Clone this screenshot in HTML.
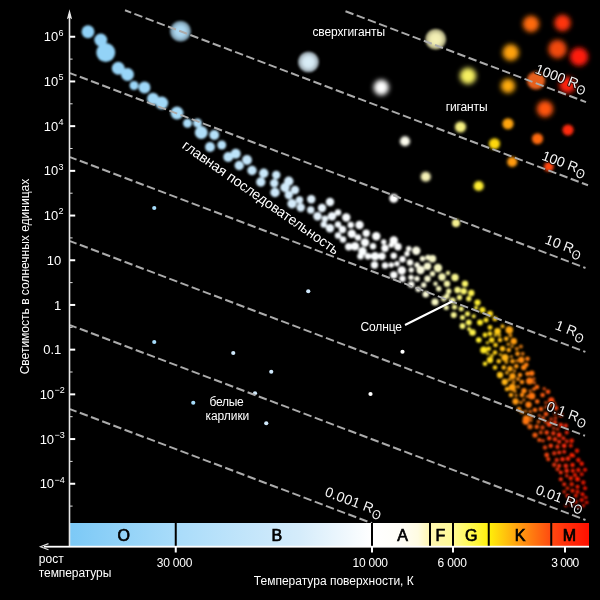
<!DOCTYPE html>
<html lang="ru"><head><meta charset="utf-8"><title>Диаграмма Герцшпрунга — Рассела</title>
<style>
html,body{margin:0;padding:0;background:#000;}
svg{display:block;font-family:"Liberation Sans","DejaVu Sans",sans-serif;}
.lab{fill:#fff;font-size:12px;}
.rl{fill:#f4f4f4;font-size:14px;stroke:#000;stroke-width:2px;stroke-opacity:.75;paint-order:stroke fill;stroke-linejoin:round;}
.cls{fill:#000;font-size:16px;text-anchor:middle;stroke:#000;stroke-width:.7px;}
.tick{fill:#fff;font-size:13px;}
.dash{stroke:#ababab;stroke-width:2;stroke-dasharray:8.5 3.46;fill:none;}
</style></head><body>
<svg width="600" height="600" viewBox="0 0 600 600">
<defs>
<filter id="b0" x="-50%" y="-50%" width="200%" height="200%"><feGaussianBlur stdDeviation="0.6"/></filter>
<filter id="b07" x="-30%" y="-30%" width="160%" height="160%"><feGaussianBlur stdDeviation="1.0"/></filter>
<filter id="b1" x="-30%" y="-30%" width="160%" height="160%"><feGaussianBlur stdDeviation="1.0"/></filter>
<filter id="b2" x="-40%" y="-40%" width="180%" height="180%"><feGaussianBlur stdDeviation="1.7"/></filter>
<filter id="b3" x="-50%" y="-50%" width="200%" height="200%"><feGaussianBlur stdDeviation="2.5"/></filter>
<linearGradient id="bar" gradientUnits="userSpaceOnUse" x1="70" y1="0" x2="589" y2="0">
<stop offset="0.0000" stop-color="#7cc9f6"/>
<stop offset="0.2042" stop-color="#a9dcfa"/>
<stop offset="0.4432" stop-color="#d5ecfb"/>
<stop offset="0.5819" stop-color="#ffffff"/>
<stop offset="0.6358" stop-color="#fffef8"/>
<stop offset="0.6705" stop-color="#fffce2"/>
<stop offset="0.6936" stop-color="#fff7b0"/>
<stop offset="0.7380" stop-color="#fffa96"/>
<stop offset="0.7707" stop-color="#fffa54"/>
<stop offset="0.8073" stop-color="#fff00a"/>
<stop offset="0.8671" stop-color="#ff9a10"/>
<stop offset="0.9268" stop-color="#ff4a10"/>
<stop offset="0.9538" stop-color="#ff320c"/>
<stop offset="1.0000" stop-color="#ff1000"/>
</linearGradient>
</defs>
<rect width="600" height="600" fill="#000"/>
<g filter="url(#b07)">
<circle cx="88" cy="31.75" r="6.45" fill="#8fd1f7"/>
<circle cx="100.75" cy="40" r="6.45" fill="#92d2f7"/>
<circle cx="105.75" cy="52.5" r="9.45" fill="#93d3f7"/>
<circle cx="118.25" cy="68.25" r="6.45" fill="#97d4f7"/>
<circle cx="127.5" cy="74.5" r="6.45" fill="#99d6f8"/>
<circle cx="134" cy="85.5" r="4.45" fill="#9bd6f8"/>
<circle cx="144.5" cy="87.5" r="5.95" fill="#9ed7f8"/>
<circle cx="153" cy="98.75" r="5.95" fill="#a0d8f8"/>
<circle cx="161.75" cy="103" r="6.45" fill="#a2d9f9"/>
<circle cx="177" cy="113" r="6.45" fill="#a6dbf9"/>
<circle cx="187.5" cy="123.25" r="4.45" fill="#abddf9"/>
<circle cx="197.5" cy="123" r="4.45" fill="#afdef9"/>
<circle cx="201.25" cy="132.5" r="6.45" fill="#b0dff9"/>
<circle cx="214.25" cy="135" r="4.95" fill="#b5e1fa"/>
<circle cx="210" cy="147" r="4.95" fill="#b4e0fa"/>
<circle cx="221.75" cy="145" r="4.45" fill="#b8e2fa"/>
<circle cx="228.25" cy="157" r="4.95" fill="#bbe3fa"/>
<circle cx="235.75" cy="153.75" r="4.95" fill="#bee4fa"/>
<circle cx="247" cy="160" r="4.95" fill="#c3e5fa"/>
</g>
<g filter="url(#b1)">
<circle cx="239.25" cy="165.5" r="4.70" fill="#c0e4fa"/>
<circle cx="252" cy="170.5" r="4.70" fill="#c5e6fa"/>
<circle cx="263.75" cy="173.25" r="4.70" fill="#c9e8fa"/>
<circle cx="260.75" cy="182" r="4.70" fill="#c8e7fa"/>
<circle cx="276.25" cy="175" r="4.20" fill="#ceeafb"/>
<circle cx="274.25" cy="183.25" r="4.20" fill="#cee9fb"/>
<circle cx="275" cy="192.5" r="4.70" fill="#cee9fb"/>
<circle cx="288.75" cy="181.25" r="4.70" fill="#d3ebfb"/>
<circle cx="285" cy="187.5" r="4.70" fill="#d2ebfb"/>
<circle cx="295" cy="190" r="4.20" fill="#d6ecfb"/>
<circle cx="288.75" cy="195" r="4.20" fill="#d3ebfb"/>
<circle cx="292" cy="203.75" r="4.70" fill="#d5ecfb"/>
<circle cx="299.5" cy="200" r="3.70" fill="#d8edfb"/>
<circle cx="300.75" cy="207.5" r="4.20" fill="#d9edfb"/>
<circle cx="311.25" cy="199.25" r="4.20" fill="#e0f1fc"/>
<circle cx="310.75" cy="210" r="3.70" fill="#e0f1fc"/>
<circle cx="317.5" cy="216.25" r="4.20" fill="#e5f3fd"/>
<circle cx="322" cy="208" r="4.20" fill="#e9f5fd"/>
<circle cx="330" cy="202" r="4.20" fill="#eff8fe"/>
<circle cx="332" cy="216.25" r="4.20" fill="#f0f8fe"/>
<circle cx="338" cy="212.5" r="3.20" fill="#f5fbfe"/>
<circle cx="325" cy="218.75" r="3.20" fill="#ebf6fd"/>
<circle cx="323.75" cy="224.5" r="3.20" fill="#eaf5fd"/>
<circle cx="330" cy="228.25" r="4.20" fill="#eff8fe"/>
<circle cx="338" cy="224.5" r="3.20" fill="#f5fbfe"/>
<circle cx="346.25" cy="217.5" r="4.20" fill="#fafdff"/>
<circle cx="342.5" cy="229.5" r="3.70" fill="#f8fcff"/>
<circle cx="338" cy="235.5" r="3.20" fill="#f5fbfe"/>
<circle cx="343" cy="239.5" r="3.20" fill="#f8fcff"/>
<circle cx="350.75" cy="225" r="3.20" fill="#fafdff"/>
<circle cx="351.75" cy="233.75" r="4.20" fill="#fbfdff"/>
<circle cx="359.5" cy="225" r="4.20" fill="#fbfdff"/>
<circle cx="358" cy="237.5" r="3.20" fill="#fbfdff"/>
<circle cx="366.25" cy="233.25" r="3.70" fill="#fcfeff"/>
<circle cx="365" cy="242.5" r="4.20" fill="#fcfeff"/>
<circle cx="376.25" cy="236.25" r="4.20" fill="#fdfeff"/>
<circle cx="348.75" cy="246.75" r="3.70" fill="#fafdff"/>
<circle cx="355" cy="246.25" r="4.20" fill="#fbfdff"/>
<circle cx="362.5" cy="251.25" r="4.20" fill="#fbfeff"/>
<circle cx="360.5" cy="256.25" r="3.20" fill="#fbfeff"/>
<circle cx="373" cy="246.25" r="3.20" fill="#fcfeff"/>
<circle cx="368" cy="256.25" r="3.20" fill="#fcfeff"/>
<circle cx="375" cy="256.25" r="4.20" fill="#fcfeff"/>
<circle cx="382" cy="256.25" r="3.70" fill="#fdfeff"/>
<circle cx="374.5" cy="265" r="3.70" fill="#fcfeff"/>
<circle cx="385" cy="248.25" r="3.70" fill="#fdfeff"/>
<circle cx="383.75" cy="242" r="2.70" fill="#fdfeff"/>
<circle cx="393.75" cy="240.5" r="4.20" fill="#feffff"/>
<circle cx="391.25" cy="245" r="2.70" fill="#feffff"/>
<circle cx="398" cy="246.75" r="3.70" fill="#feffff"/>
<circle cx="393.75" cy="255.75" r="3.20" fill="#feffff"/>
<circle cx="385" cy="265.5" r="3.20" fill="#fdfeff"/>
<circle cx="391.25" cy="265" r="2.70" fill="#feffff"/>
<circle cx="397" cy="263.75" r="2.70" fill="#feffff"/>
<circle cx="402.5" cy="259.25" r="3.20" fill="#ffffff"/>
<circle cx="401.75" cy="270.5" r="4.20" fill="#ffffff"/>
<circle cx="393.75" cy="275" r="3.70" fill="#feffff"/>
<circle cx="402.5" cy="278.75" r="3.20" fill="#ffffff"/>
<circle cx="408.75" cy="248.75" r="2.70" fill="#fefef8"/>
<circle cx="407" cy="253.75" r="2.70" fill="#fefefb"/>
<circle cx="410" cy="262.5" r="3.20" fill="#fefef5"/>
<circle cx="411.25" cy="270" r="2.70" fill="#fdfdf2"/>
<circle cx="416.25" cy="250.75" r="4.20" fill="#fcfce8"/>
<circle cx="422.5" cy="258.75" r="2.70" fill="#fbfbdc"/>
<circle cx="417" cy="265" r="2.70" fill="#fcfce7"/>
<circle cx="420.5" cy="270" r="4.20" fill="#fbfbe0"/>
<circle cx="428" cy="257.5" r="2.70" fill="#f9f9d1"/>
<circle cx="427.5" cy="266.25" r="3.70" fill="#f9f9d2"/>
<circle cx="417" cy="278.75" r="2.70" fill="#fcfce7"/>
<circle cx="411.25" cy="284.5" r="3.20" fill="#fdfdf2"/>
<circle cx="423.75" cy="285" r="2.70" fill="#fafada"/>
<circle cx="418.25" cy="289.25" r="2.70" fill="#fcfce4"/>
<circle cx="425.75" cy="294.25" r="3.17" fill="#fafad6"/>
<circle cx="411" cy="277.5" r="2.70" fill="#fefef3"/>
<circle cx="432.5" cy="258.75" r="3.70" fill="#f8f8c8"/>
<circle cx="427.5" cy="278.75" r="3.20" fill="#f9f9d2"/>
<circle cx="438" cy="268" r="4.20" fill="#f7f7bd"/>
<circle cx="432.5" cy="273.75" r="2.70" fill="#f8f8c8"/>
<circle cx="435.5" cy="283.75" r="2.20" fill="#f7f7c2"/>
<circle cx="438.75" cy="288.75" r="2.70" fill="#f7f7bc"/>
<circle cx="442" cy="277" r="3.70" fill="#f6f6b5"/>
<circle cx="448" cy="273" r="2.20" fill="#f6f5a5"/>
<circle cx="455" cy="277.5" r="3.70" fill="#f8f68f"/>
<circle cx="447" cy="283.75" r="3.20" fill="#f6f5a9"/>
<circle cx="448.75" cy="291.25" r="2.69" fill="#f6f5a3"/>
<circle cx="435" cy="302" r="3.59" fill="#f8f8c3"/>
<circle cx="443.75" cy="298.75" r="2.64" fill="#f5f5b2"/>
<circle cx="447" cy="296" r="2.66" fill="#f6f5a9"/>
<circle cx="452.5" cy="300.5" r="3.12" fill="#f7f597"/>
<circle cx="446.25" cy="307.5" r="2.58" fill="#f5f5ab"/>
<circle cx="453.75" cy="315" r="3.00" fill="#f8f693"/>
<circle cx="454.5" cy="307" r="2.59" fill="#f8f690"/>
<circle cx="465" cy="283.75" r="3.20" fill="#fbf56b"/>
<circle cx="457.5" cy="290" r="3.20" fill="#f9f687"/>
<circle cx="463.75" cy="291.25" r="3.19" fill="#faf570"/>
<circle cx="459.5" cy="297.5" r="2.65" fill="#f9f680"/>
<circle cx="468.75" cy="298.75" r="2.64" fill="#fcf35a"/>
<circle cx="471.25" cy="293" r="3.18" fill="#fdf24f"/>
<circle cx="461.25" cy="308.75" r="2.57" fill="#faf67a"/>
<circle cx="477.5" cy="302.5" r="3.10" fill="#feef33"/>
<circle cx="476" cy="308" r="2.10" fill="#fef03a"/>
<circle cx="482.5" cy="310" r="3.04" fill="#ffe925"/>
<circle cx="467.5" cy="313.75" r="2.54" fill="#fcf460"/>
<circle cx="462.5" cy="317.5" r="2.51" fill="#faf676"/>
<circle cx="473.75" cy="316.25" r="2.06" fill="#fdf144"/>
<circle cx="490" cy="313.75" r="3.01" fill="#ffdb1d"/>
<circle cx="486" cy="320" r="2.50" fill="#ffe322"/>
<circle cx="495" cy="318.75" r="2.51" fill="#ffd218"/>
<circle cx="468.75" cy="322.5" r="2.94" fill="#fcf35a"/>
<circle cx="462.5" cy="326" r="2.91" fill="#faf676"/>
<circle cx="480" cy="322.5" r="2.94" fill="#ffee28"/>
<circle cx="472.5" cy="332.5" r="3.31" fill="#fdf149"/>
<circle cx="469" cy="329" r="1.99" fill="#fcf359"/>
<circle cx="478.75" cy="340" r="2.80" fill="#ffef2e"/>
<circle cx="485" cy="335" r="2.40" fill="#ffe523"/>
<circle cx="490" cy="327.5" r="2.45" fill="#ffdb1d"/>
<circle cx="490" cy="333.75" r="2.40" fill="#ffdb1d"/>
<circle cx="497.5" cy="331.25" r="3.32" fill="#ffcb17"/>
<circle cx="509.25" cy="330" r="3.78" fill="#ffa811"/>
<circle cx="502.5" cy="326.25" r="2.00" fill="#ffbc14"/>
<circle cx="491.75" cy="340" r="2.80" fill="#ffd81b"/>
<circle cx="495.5" cy="345" r="2.33" fill="#ffd118"/>
<circle cx="500" cy="340" r="2.36" fill="#ffc316"/>
<circle cx="506.25" cy="338.75" r="2.37" fill="#ffb113"/>
<circle cx="513.75" cy="341.25" r="3.23" fill="#ff9c10"/>
<circle cx="483.75" cy="350" r="3.57" fill="#ffe724"/>
<circle cx="488.75" cy="348.75" r="2.30" fill="#ffde1f"/>
<circle cx="495" cy="352.5" r="2.29" fill="#ffd218"/>
<circle cx="502.5" cy="348.75" r="2.73" fill="#ffbc14"/>
<circle cx="508.75" cy="350" r="2.29" fill="#ffaa12"/>
<circle cx="490" cy="360" r="3.15" fill="#ffdb1d"/>
<circle cx="485" cy="363.75" r="2.29" fill="#ffe523"/>
<circle cx="505" cy="357.5" r="3.57" fill="#ffb513"/>
<circle cx="498.75" cy="361.25" r="2.29" fill="#ffc716"/>
<circle cx="517.5" cy="353.75" r="2.29" fill="#ff9410"/>
<circle cx="521.25" cy="360" r="3.15" fill="#ff8b10"/>
<circle cx="512.5" cy="361.25" r="2.29" fill="#ff9f10"/>
<circle cx="527.5" cy="358.75" r="2.29" fill="#ff7e10"/>
<circle cx="495" cy="367.5" r="2.29" fill="#ffd218"/>
<circle cx="503.75" cy="367.5" r="2.29" fill="#ffb814"/>
<circle cx="510" cy="368.75" r="2.72" fill="#ffa611"/>
<circle cx="516.25" cy="366.25" r="2.29" fill="#ff9710"/>
<circle cx="523.75" cy="367.5" r="2.72" fill="#ff8610"/>
<circle cx="500" cy="375" r="3.15" fill="#ffc316"/>
<circle cx="512.5" cy="376.25" r="3.15" fill="#ff9f10"/>
<circle cx="520" cy="375" r="2.29" fill="#ff8e10"/>
<circle cx="527.5" cy="373.75" r="2.29" fill="#ff7e10"/>
<circle cx="504.7" cy="382" r="3.15" fill="#ffb513"/>
<circle cx="512.25" cy="387.4" r="3.57" fill="#ff9f10"/>
<circle cx="511" cy="395" r="2.29" fill="#ffa310"/>
<circle cx="515.5" cy="401.5" r="3.15" fill="#ff9810"/>
<circle cx="522" cy="395" r="2.29" fill="#ff8a10"/>
<circle cx="524" cy="390.7" r="2.72" fill="#ff8510"/>
<circle cx="522" cy="382" r="2.29" fill="#ff8a10"/>
<circle cx="529.6" cy="381" r="3.57" fill="#ff7910"/>
<circle cx="531.75" cy="373.3" r="2.72" fill="#ff7410"/>
<circle cx="526.3" cy="364.7" r="2.29" fill="#ff8010"/>
<circle cx="531.75" cy="396" r="3.57" fill="#ff7410"/>
<circle cx="528.5" cy="404.75" r="3.15" fill="#ff7b10"/>
<circle cx="537.2" cy="401.5" r="2.29" fill="#ff6810"/>
<circle cx="542.6" cy="395" r="2.29" fill="#ff5c10"/>
<circle cx="548" cy="391.75" r="2.29" fill="#ff5110"/>
<circle cx="551.25" cy="400.4" r="3.15" fill="#ff4a10"/>
<circle cx="535" cy="410" r="2.29" fill="#ff6d10"/>
<circle cx="526.3" cy="418.8" r="3.57" fill="#ff8010"/>
<circle cx="541" cy="409" r="2.29" fill="#ff6010"/>
<circle cx="546" cy="414" r="2.29" fill="#ff5510"/>
<circle cx="543" cy="418" r="1.87" fill="#ff5c10"/>
<circle cx="556" cy="408" r="2.29" fill="#ff410f"/>
<circle cx="561" cy="415" r="2.29" fill="#ff390d"/>
<circle cx="519" cy="409" r="2.29" fill="#ff9010"/>
<circle cx="522" cy="412" r="1.87" fill="#ff8a10"/>
<circle cx="507" cy="389" r="2.29" fill="#ffaf12"/>
<circle cx="518" cy="379" r="1.87" fill="#ff9310"/>
<circle cx="537" cy="387" r="2.29" fill="#ff6910"/>
<circle cx="534" cy="389" r="1.87" fill="#ff6f10"/>
<circle cx="487.4" cy="342.7" r="1.8" fill="#ffe020" opacity=".8"/>
<circle cx="491.9" cy="355.7" r="2" fill="#ffd81b" opacity=".8"/>
<circle cx="513.6" cy="382" r="2" fill="#ff9c10" opacity=".8"/>
<circle cx="514.9" cy="391.3" r="1.8" fill="#ff9a10" opacity=".8"/>
<circle cx="523.8" cy="399.8" r="1.6" fill="#ff8610" opacity=".8"/>
<circle cx="516.8" cy="348.8" r="2" fill="#ff9510" opacity=".8"/>
<circle cx="546.1" cy="407" r="1.8" fill="#ff5510" opacity=".8"/>
<circle cx="520.9" cy="402.5" r="1.8" fill="#ff8c10" opacity=".8"/>
<circle cx="544.2" cy="388.7" r="1.8" fill="#ff5910" opacity=".8"/>
<circle cx="530.2" cy="411.6" r="1.8" fill="#ff7810" opacity=".8"/>
<circle cx="545.8" cy="402.5" r="1.6" fill="#ff5510" opacity=".8"/>
<circle cx="531.6" cy="416.4" r="2" fill="#ff7410" opacity=".8"/>
<circle cx="518.1" cy="386.7" r="1.8" fill="#ff9210" opacity=".8"/>
<circle cx="508.3" cy="344.3" r="1.8" fill="#ffab12" opacity=".8"/>
<circle cx="538.5" cy="421.8" r="2" fill="#ff6510" opacity=".8"/>
<circle cx="516.1" cy="395.4" r="1.6" fill="#ff9710" opacity=".8"/>
<circle cx="512.1" cy="346.3" r="1.6" fill="#ffa010" opacity=".8"/>
<circle cx="534.4" cy="382.7" r="1.6" fill="#ff6e10" opacity=".8"/>
<circle cx="514.6" cy="370.9" r="1.6" fill="#ff9a10" opacity=".8"/>
<circle cx="531" cy="420.4" r="1.6" fill="#ff7610" opacity=".8"/>
<circle cx="530.1" cy="390.8" r="1.6" fill="#ff7810" opacity=".8"/>
<circle cx="500.4" cy="354.6" r="1.6" fill="#ffc215" opacity=".8"/>
<circle cx="506.3" cy="362" r="2" fill="#ffb113" opacity=".8"/>
<circle cx="495.4" cy="335.1" r="1.8" fill="#ffd118" opacity=".8"/>
<circle cx="551.1" cy="419.1" r="1.8" fill="#ff4a10" opacity=".8"/>
<circle cx="510.4" cy="335.4" r="2" fill="#ffa511" opacity=".8"/>
<circle cx="516.9" cy="360.8" r="1.6" fill="#ff9510" opacity=".8"/>
<circle cx="499.4" cy="335.4" r="1.8" fill="#ffc516" opacity=".8"/>
<circle cx="534" cy="378.8" r="1.6" fill="#ff6f10" opacity=".8"/>
<circle cx="555.1" cy="413.4" r="1.8" fill="#ff430f" opacity=".8"/>
<circle cx="555.5" cy="418.1" r="1.8" fill="#ff420f" opacity=".8"/>
<circle cx="539.4" cy="415.6" r="1.6" fill="#ff6310" opacity=".8"/>
<circle cx="506.9" cy="372.8" r="2" fill="#ffaf12" opacity=".8"/>
<circle cx="509.3" cy="379.7" r="1.8" fill="#ffa811" opacity=".8"/>
<circle cx="527.1" cy="396.3" r="1.6" fill="#ff7e10" opacity=".8"/>
<circle cx="525.8" cy="411.1" r="1.6" fill="#ff8110" opacity=".8"/>
<circle cx="553.7" cy="428.2" r="1.6" fill="#ff450f" opacity=".8"/>
<circle cx="549.8" cy="405.4" r="2" fill="#ff4d10" opacity=".8"/>
<circle cx="520.9" cy="346.5" r="2" fill="#ff8c10" opacity=".8"/>
<circle cx="566.8" cy="441.3" r="2" fill="#ff300b" opacity=".8"/>
<circle cx="554.4" cy="403.9" r="2" fill="#ff440f" opacity=".8"/>
<circle cx="545.3" cy="421.7" r="1.8" fill="#ff5610" opacity=".8"/>
<circle cx="557.6" cy="429.2" r="1.6" fill="#ff3f0e" opacity=".8"/>
<circle cx="487.8" cy="353.7" r="1.6" fill="#ffdf20" opacity=".8"/>
<circle cx="522.7" cy="353.8" r="2" fill="#ff8810" opacity=".8"/>
<circle cx="511.4" cy="356.6" r="1.6" fill="#ffa210" opacity=".8"/>
<circle cx="525.8" cy="421.3" r="3.4" fill="#ff7410" opacity="1"/>
<circle cx="530" cy="426.7" r="2.6" fill="#ff6b10" opacity="0.9"/>
<circle cx="536.7" cy="426.7" r="2.2" fill="#ff5c10" opacity="0.95"/>
<circle cx="542.5" cy="427.5" r="2.2" fill="#ff4f10" opacity="0.85"/>
<circle cx="549.2" cy="424.2" r="2.6" fill="#ff430f" opacity="1"/>
<circle cx="555" cy="422.5" r="2.2" fill="#ff390d" opacity="0.92"/>
<circle cx="560.8" cy="425" r="2.2" fill="#ff300b" opacity="1"/>
<circle cx="565.8" cy="425.8" r="2.2" fill="#ff2b09" opacity="0.9"/>
<circle cx="535" cy="435" r="2.6" fill="#ff6010" opacity="0.95"/>
<circle cx="540.8" cy="432.5" r="2" fill="#ff5310" opacity="0.85"/>
<circle cx="546.7" cy="432.5" r="2.2" fill="#ff4710" opacity="1"/>
<circle cx="553.3" cy="433.3" r="2.2" fill="#ff3c0e" opacity="0.92"/>
<circle cx="559.2" cy="435" r="2.4" fill="#ff320c" opacity="1"/>
<circle cx="566.7" cy="432.5" r="2" fill="#ff2a08" opacity="0.9"/>
<circle cx="539.2" cy="440" r="2" fill="#ff5710" opacity="0.95"/>
<circle cx="543" cy="440.8" r="1.8" fill="#ff4e10" opacity="0.85"/>
<circle cx="549.2" cy="438.3" r="2.2" fill="#ff430f" opacity="1"/>
<circle cx="555" cy="439.2" r="2.2" fill="#ff390d" opacity="0.92"/>
<circle cx="559.2" cy="441.7" r="2" fill="#ff320c" opacity="1"/>
<circle cx="563.3" cy="438.3" r="2" fill="#ff2d0a" opacity="0.9"/>
<circle cx="571.7" cy="440.8" r="2.2" fill="#ff2406" opacity="0.95"/>
<circle cx="545" cy="447.5" r="2.2" fill="#ff4a10" opacity="0.85"/>
<circle cx="550.8" cy="445.8" r="2.2" fill="#ff400e" opacity="1"/>
<circle cx="557.5" cy="446.7" r="2.2" fill="#ff350c" opacity="0.92"/>
<circle cx="564.2" cy="445.8" r="2.4" fill="#ff2c09" opacity="1"/>
<circle cx="570.8" cy="445.8" r="2" fill="#ff2506" opacity="0.9"/>
<circle cx="546.7" cy="455" r="2.4" fill="#ff4710" opacity="0.95"/>
<circle cx="554.2" cy="453.3" r="2.2" fill="#ff3a0d" opacity="0.85"/>
<circle cx="559.2" cy="452.5" r="2" fill="#ff320c" opacity="1"/>
<circle cx="564.2" cy="451.7" r="2" fill="#ff2c09" opacity="0.92"/>
<circle cx="571.7" cy="455" r="2.2" fill="#ff2406" opacity="1"/>
<circle cx="577" cy="450.8" r="2.2" fill="#ff1e03" opacity="0.9"/>
<circle cx="548.3" cy="459.2" r="2" fill="#ff440f" opacity="0.95"/>
<circle cx="556.7" cy="460" r="2.2" fill="#ff360d" opacity="0.85"/>
<circle cx="562.5" cy="459.2" r="2.2" fill="#ff2e0a" opacity="1"/>
<circle cx="568" cy="458.7" r="2.4" fill="#ff2808" opacity="0.92"/>
<circle cx="573.3" cy="455.8" r="1.8" fill="#ff2305" opacity="1"/>
<circle cx="578.3" cy="460" r="2.2" fill="#ff1d02" opacity="0.9"/>
<circle cx="581.7" cy="463.7" r="2.2" fill="#ff1901" opacity="0.95"/>
<circle cx="554.2" cy="464.7" r="2.2" fill="#ff3a0d" opacity="0.85"/>
<circle cx="559.2" cy="465.8" r="2" fill="#ff320c" opacity="1"/>
<circle cx="565.8" cy="465.8" r="2.4" fill="#ff2b09" opacity="0.92"/>
<circle cx="572.5" cy="465" r="2.2" fill="#ff2305" opacity="1"/>
<circle cx="578.3" cy="470" r="2.2" fill="#ff1d02" opacity="0.9"/>
<circle cx="585" cy="469.7" r="2" fill="#ff1800" opacity="0.95"/>
<circle cx="557.5" cy="469.2" r="2" fill="#ff350c" opacity="0.85"/>
<circle cx="560.8" cy="472.5" r="2" fill="#ff300b" opacity="1"/>
<circle cx="566.7" cy="470.8" r="2.4" fill="#ff2a08" opacity="0.92"/>
<circle cx="572.8" cy="470.8" r="2" fill="#ff2305" opacity="1"/>
<circle cx="566.7" cy="475.8" r="1.8" fill="#ff2a08" opacity="0.9"/>
<circle cx="575" cy="475" r="2" fill="#ff2104" opacity="0.95"/>
<circle cx="581.7" cy="474.2" r="2" fill="#ff1901" opacity="0.85"/>
<circle cx="560.8" cy="479.2" r="2" fill="#ff300b" opacity="1"/>
<circle cx="570.8" cy="478.3" r="2.2" fill="#ff2506" opacity="0.92"/>
<circle cx="577.5" cy="479.2" r="2.4" fill="#ff1e03" opacity="1"/>
<circle cx="583.3" cy="482.5" r="2.2" fill="#ff1800" opacity="0.9"/>
<circle cx="564.2" cy="484.2" r="2" fill="#ff2c09" opacity="0.95"/>
<circle cx="571.7" cy="484.2" r="2.2" fill="#ff2406" opacity="0.85"/>
<circle cx="577.5" cy="486.7" r="2" fill="#ff1e03" opacity="1"/>
<circle cx="567.5" cy="488.3" r="1.8" fill="#ff2908" opacity="0.92"/>
<circle cx="572.5" cy="490.8" r="2" fill="#ff2305" opacity="1"/>
<circle cx="577.5" cy="491.7" r="2" fill="#ff1e03" opacity="0.9"/>
<circle cx="585" cy="488.3" r="2" fill="#ff1800" opacity="0.95"/>
<circle cx="564.2" cy="491.7" r="1.8" fill="#ff2c09" opacity="0.85"/>
<circle cx="567.5" cy="495.8" r="2" fill="#ff2908" opacity="1"/>
<circle cx="575.8" cy="495.8" r="2" fill="#ff2004" opacity="0.92"/>
<circle cx="582.5" cy="494.2" r="2" fill="#ff1900" opacity="1"/>
<circle cx="585.8" cy="497.5" r="1.8" fill="#ff1800" opacity="0.9"/>
<circle cx="569.2" cy="500" r="1.8" fill="#ff2707" opacity="0.95"/>
<circle cx="575.8" cy="501.7" r="2" fill="#ff2004" opacity="0.85"/>
<circle cx="581.7" cy="500" r="2" fill="#ff1901" opacity="1"/>
<circle cx="586.7" cy="502.5" r="1.8" fill="#ff1800" opacity="0.92"/>
<circle cx="565.8" cy="505.8" r="1.4" fill="#ff2b09" opacity="1"/>
<circle cx="571.7" cy="505" r="1.8" fill="#ff2406" opacity="0.9"/>
<circle cx="578.3" cy="506.7" r="1.8" fill="#ff1d02" opacity="0.95"/>
<circle cx="583.3" cy="505.8" r="1.8" fill="#ff1800" opacity="0.85"/>
</g>
<radialGradient id="sg0"><stop offset="0" stop-color="#b0dcf6"/><stop offset=".5" stop-color="#a8d3ec"/><stop offset=".85" stop-color="#7e9eb1"/><stop offset="1" stop-color="#586e7b"/></radialGradient>
<circle cx="180.5" cy="31.25" r="10.6" fill="url(#sg0)" filter="url(#b1)"/>
<radialGradient id="sg1"><stop offset="0" stop-color="#dcf0fa"/><stop offset=".5" stop-color="#d3e6f0"/><stop offset=".85" stop-color="#9eacb4"/><stop offset="1" stop-color="#6e787d"/></radialGradient>
<circle cx="308.5" cy="62" r="10.6" fill="url(#sg1)" filter="url(#b1)"/>
<circle cx="381.25" cy="87.5" r="7.7" fill="#ffffff" filter="url(#b3)"/>
<radialGradient id="sg3"><stop offset="0" stop-color="#f8f4b8"/><stop offset=".5" stop-color="#eeeab0"/><stop offset=".85" stop-color="#b2af84"/><stop offset="1" stop-color="#7c7a5c"/></radialGradient>
<circle cx="435.75" cy="39.25" r="10.6" fill="url(#sg3)" filter="url(#b1)"/>
<circle cx="405" cy="141.25" r="5.1" fill="#fffef0" filter="url(#b2)"/>
<circle cx="531" cy="24" r="8.2" fill="#ff6a08" filter="url(#b3)"/>
<circle cx="562.5" cy="23" r="8.2" fill="#ff3510" filter="url(#b3)"/>
<circle cx="510.75" cy="52.5" r="8.2" fill="#ffa208" filter="url(#b3)"/>
<circle cx="557.5" cy="49" r="9.2" fill="#f24a10" filter="url(#b3)"/>
<circle cx="579" cy="56.75" r="9.2" fill="#ff1a10" filter="url(#b3)"/>
<circle cx="468" cy="76" r="8.2" fill="#f6f060" filter="url(#b3)"/>
<circle cx="508" cy="86" r="7.2" fill="#ffac10" filter="url(#b3)"/>
<circle cx="536" cy="80.5" r="9.1" fill="#e8601a" filter="url(#b2)"/>
<circle cx="567.5" cy="85" r="8.2" fill="#ff2410" filter="url(#b3)"/>
<circle cx="545" cy="109" r="8.2" fill="#ff5510" filter="url(#b3)"/>
<circle cx="460.5" cy="127" r="5.6" fill="#f6f080" filter="url(#b2)"/>
<circle cx="508" cy="123.75" r="5.6" fill="#ffa410" filter="url(#b2)"/>
<circle cx="568" cy="130" r="5.6" fill="#ff2a10" filter="url(#b2)"/>
<circle cx="537.5" cy="138.75" r="5.6" fill="#ff6a10" filter="url(#b2)"/>
<circle cx="494.5" cy="143.75" r="5.6" fill="#ffd810" filter="url(#b2)"/>
<circle cx="512.2" cy="161.9" r="5.1" fill="#ff9a10" filter="url(#b2)"/>
<circle cx="548.8" cy="166.7" r="4.9" fill="#ff4510" filter="url(#b2)"/>
<circle cx="478.7" cy="186" r="5.1" fill="#ffee30" filter="url(#b2)"/>
<circle cx="456" cy="223.1" r="4.1" fill="#f5f090" filter="url(#b1)"/>
<circle cx="425.75" cy="176.75" r="5.1" fill="#f6f2b8" filter="url(#b2)"/>
<circle cx="393.75" cy="198.25" r="4.5" fill="#ffffff" filter="url(#b1)"/>
<g filter="url(#b0)">
<circle cx="154.25" cy="208" r="2.1" fill="#a6dcfb"/>
<circle cx="154.25" cy="342" r="2.1" fill="#a6dcfb"/>
<circle cx="233.25" cy="353" r="2.1" fill="#cfe8fb"/>
<circle cx="271.25" cy="371.75" r="2.1" fill="#cfe8fb"/>
<circle cx="255" cy="393.25" r="2.1" fill="#cfe8fb"/>
<circle cx="193.25" cy="402.75" r="2.1" fill="#a6dcfb"/>
<circle cx="266.25" cy="423.25" r="2.1" fill="#cfe8fb"/>
<circle cx="308.25" cy="291.25" r="2.1" fill="#cfe8fb"/>
<circle cx="402.5" cy="351.75" r="2.1" fill="#ffffff"/>
<circle cx="370.5" cy="394" r="2.1" fill="#ffffff"/>
</g>
<line class="dash" x1="345.5" y1="11.2" x2="586" y2="102.11" stroke-dashoffset="0"/>
<line class="dash" x1="125" y1="10.3" x2="588" y2="185.31" stroke-dashoffset="1.9"/>
<line class="dash" x1="70" y1="73.1" x2="585.5" y2="267.96" stroke-dashoffset="1.5"/>
<line class="dash" x1="70" y1="157.1" x2="585.4" y2="351.92" stroke-dashoffset="1.5"/>
<line class="dash" x1="70" y1="241.1" x2="585" y2="435.77" stroke-dashoffset="1.5"/>
<line class="dash" x1="70" y1="325.1" x2="585.5" y2="519.96" stroke-dashoffset="1.5"/>
<line class="dash" x1="70" y1="409.1" x2="372" y2="523.26" stroke-dashoffset="1.5"/>
<rect x="70" y="523" width="519" height="23.6" fill="url(#bar)"/>
<rect x="174.75" y="523" width="2" height="23" fill="#000"/>
<rect x="371" y="523" width="2" height="23" fill="#000"/>
<rect x="429" y="523" width="2" height="23" fill="#000"/>
<rect x="452" y="523" width="2" height="23" fill="#000"/>
<rect x="487.75" y="523" width="2" height="23" fill="#000"/>
<rect x="550.25" y="523" width="2" height="23" fill="#000"/>
<text class="cls" x="123.75" y="540.9">O</text>
<text class="cls" x="276.75" y="540.9">B</text>
<text class="cls" x="402.5" y="540.9">A</text>
<text class="cls" x="440.5" y="540.9">F</text>
<text class="cls" x="471.25" y="540.9">G</text>
<text class="cls" x="520" y="540.9">K</text>
<text class="cls" x="569.5" y="540.9">M</text>
<rect x="68.7" y="14" width="1.6" height="533" fill="#e6e6e6"/>
<path d="M69.5 9.2 L66.9 19.2 L69.5 17.4 L72.1 19.2 Z" fill="#e6e6e6"/>
<rect x="44" y="545.8" width="545" height="1.8" fill="#fff"/>
<path d="M48.5 543.6 L40.5 546.7 L48.5 549.8" fill="none" stroke="#ddd" stroke-width="1.2"/>
<rect x="174.75" y="547" width="2" height="5.5" fill="#fff"/>
<rect x="371" y="547" width="2" height="5.5" fill="#fff"/>
<rect x="452" y="547" width="2" height="5.5" fill="#fff"/>
<rect x="564" y="547" width="2" height="5.5" fill="#fff"/>
<rect x="70" y="35.75" width="5.2" height="2" fill="#fff"/>
<rect x="70" y="58.60" width="2.6" height="1" fill="#ddd"/>
<text class="tick" x="58.3" y="41.35" text-anchor="end">10</text><text class="tick" x="58.6" y="35.55" style="font-size:9px">6</text>
<rect x="70" y="80.45" width="5.2" height="2" fill="#fff"/>
<rect x="70" y="103.30" width="2.6" height="1" fill="#ddd"/>
<text class="tick" x="58.3" y="86.05" text-anchor="end">10</text><text class="tick" x="58.6" y="80.25" style="font-size:9px">5</text>
<rect x="70" y="125.15" width="5.2" height="2" fill="#fff"/>
<rect x="70" y="148.00" width="2.6" height="1" fill="#ddd"/>
<text class="tick" x="58.3" y="130.75" text-anchor="end">10</text><text class="tick" x="58.6" y="124.95" style="font-size:9px">4</text>
<rect x="70" y="169.85" width="5.2" height="2" fill="#fff"/>
<rect x="70" y="192.70" width="2.6" height="1" fill="#ddd"/>
<text class="tick" x="58.3" y="175.45" text-anchor="end">10</text><text class="tick" x="58.6" y="169.65" style="font-size:9px">3</text>
<rect x="70" y="214.55" width="5.2" height="2" fill="#fff"/>
<rect x="70" y="237.40" width="2.6" height="1" fill="#ddd"/>
<text class="tick" x="58.3" y="220.15" text-anchor="end">10</text><text class="tick" x="58.6" y="214.35" style="font-size:9px">2</text>
<rect x="70" y="259.25" width="5.2" height="2" fill="#fff"/>
<rect x="70" y="282.10" width="2.6" height="1" fill="#ddd"/>
<text class="tick" x="61.3" y="264.85" text-anchor="end">10</text>
<rect x="70" y="303.95" width="5.2" height="2" fill="#fff"/>
<rect x="70" y="326.80" width="2.6" height="1" fill="#ddd"/>
<text class="tick" x="61.3" y="309.55" text-anchor="end">1</text>
<rect x="70" y="348.65" width="5.2" height="2" fill="#fff"/>
<rect x="70" y="371.50" width="2.6" height="1" fill="#ddd"/>
<text class="tick" x="61.3" y="354.25" text-anchor="end">0.1</text>
<rect x="70" y="393.35" width="5.2" height="2" fill="#fff"/>
<rect x="70" y="416.20" width="2.6" height="1" fill="#ddd"/>
<text class="tick" x="54.1" y="398.95" text-anchor="end">10</text><text class="tick" x="54.4" y="393.15" style="font-size:9px">−2</text>
<rect x="70" y="438.05" width="5.2" height="2" fill="#fff"/>
<rect x="70" y="460.90" width="2.6" height="1" fill="#ddd"/>
<text class="tick" x="54.1" y="443.65" text-anchor="end">10</text><text class="tick" x="54.4" y="437.85" style="font-size:9px">−3</text>
<rect x="70" y="482.75" width="5.2" height="2" fill="#fff"/>
<rect x="70" y="505.60" width="2.6" height="1" fill="#ddd"/>
<text class="tick" x="54.1" y="488.35" text-anchor="end">10</text><text class="tick" x="54.4" y="482.55" style="font-size:9px">−4</text>
<text class="lab" transform="translate(28.8,374.3) rotate(-90)" textLength="195.5" lengthAdjust="spacingAndGlyphs">Светимость в солнечных единицах</text>
<text class="lab" x="312.5" y="35.8" textLength="72.5">сверхгиганты</text>
<text class="lab" x="445.8" y="110.8" textLength="41.7">гиганты</text>
<text class="lab" x="209.5" y="405.8" textLength="34.3">белые</text>
<text class="lab" x="205.5" y="419.5" textLength="43.8">карлики</text>
<text class="lab" x="360.5" y="331.3" textLength="41.5">Солнце</text>
<line x1="405" y1="325" x2="452.5" y2="301.25" stroke="#fff" stroke-width="2"/>
<text class="lab" x="38.8" y="563">рост</text>
<text class="lab" x="38.8" y="576.8" textLength="72.5">температуры</text>
<text class="lab" x="253.8" y="585" textLength="160">Температура поверхности, К</text>
<text class="lab" x="156.8" y="567" textLength="35.7">30 000</text>
<text class="lab" x="352.5" y="567" textLength="35.5">10 000</text>
<text class="lab" x="437.5" y="567" textLength="29.5">6 000</text>
<text class="lab" x="551.3" y="567" textLength="28">3 000</text>
<text transform="translate(181.3,147.6) rotate(35)" style="fill:#fff;font-size:14px" textLength="187.5">главная последовательность</text>
<g transform="translate(534.2,72.8) rotate(20.5)"><text class="rl">1000 R</text><text class="rl" transform="translate(45.34,4) scale(.86,1)" style="font-size:13px">ʘ</text></g>
<g transform="translate(541,159.4) rotate(20.5)"><text class="rl">100 R</text><text class="rl" transform="translate(37.55,4) scale(.86,1)" style="font-size:13px">ʘ</text></g>
<g transform="translate(544.1,243.3) rotate(20.5)"><text class="rl">10 R</text><text class="rl" transform="translate(29.77,4) scale(.86,1)" style="font-size:13px">ʘ</text></g>
<g transform="translate(554.3,329) rotate(20.5)"><text class="rl">1 R</text><text class="rl" transform="translate(21.98,4) scale(.86,1)" style="font-size:13px">ʘ</text></g>
<g transform="translate(545.5,410) rotate(20.5)"><text class="rl">0.1 R</text><text class="rl" transform="translate(33.66,4) scale(.86,1)" style="font-size:13px">ʘ</text></g>
<g transform="translate(534.8,493.5) rotate(20.5)"><text class="rl">0.01 R</text><text class="rl" transform="translate(41.44,4) scale(.86,1)" style="font-size:13px">ʘ</text></g>
<g transform="translate(323.9,495.6) rotate(20.5)"><text class="rl" textLength="50.8">0.001 R</text><text class="rl" transform="translate(51.43,4) scale(.86,1)" style="font-size:13px">ʘ</text></g>
</svg>
</body></html>
